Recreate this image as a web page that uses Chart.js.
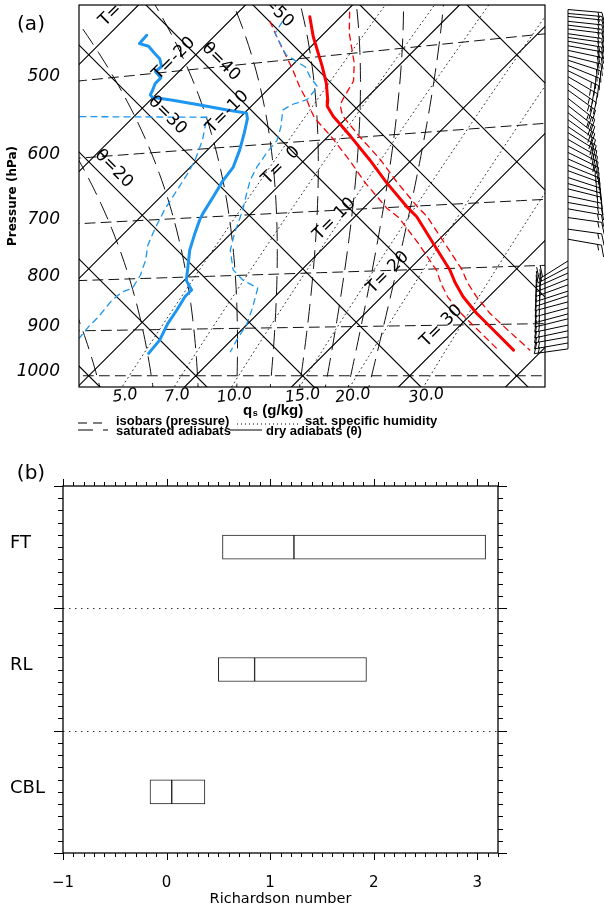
<!DOCTYPE html>
<html lang="en">
<head>
<meta charset="UTF-8" />
<title>Tephigram and Richardson number</title>
<script src="https://cdn.jsdelivr.net/npm/chart.js"></script>
<style>
  body { margin: 0; background: #fff; }
  #panelA { position: absolute; left: 0; top: 0; width: 604px; height: 445px; }
  #panelB { position: absolute; left: 0; top: 445px; width: 604px; height: 464px; }
</style>
</head>
<body>
<div id="panelA"><canvas id="tephi"></canvas></div>
<div id="panelB"><canvas id="rich"></canvas></div>
<script>
// ---------- (a) sounding on a tephigram ----------
const pressureTicks = [500, 600, 700, 800, 900, 1000];
const isotherms = [-40, -30, -20, -10, 0, 10, 20, 30, 40, 50];
const dryAdiabats = [-10, 0, 10, 20, 30, 40, 50, 60, 70, 80];
const satHumidity = [5, 7, 10, 15, 20, 30];                  // g/kg
const satAdiabats = [275, 285, 295, 305, 315, 325, 335, 345, 355, 365]; // theta_e (K)

// temperature (hPa, degC) and its spread
const tempP = [457, 478, 511, 531, 551, 558, 571, 598, 631, 663, 700, 716, 758, 803, 825, 849, 879, 910, 949];
const tempT = [-12.9, -10.7, -7.1, -5.1, -3.4, -2.9, -1.4, 2.1, 6.1, 9.7, 13.9, 15.8, 19.8, 23.9, 25.6, 27.6, 30.4, 33.5, 37.3];
const tempLow = [-16.2, -13.6, -9.6, -7.4, -5.1, -4.4, -3.0, 0.5, 4.4, 7.9, 12.1, 14.2, 18.5, 22.7, 24.3, 26.2, 29.0, 32.1, 35.9];
const tempHigh = [-9.6, -7.7, -4.4, -2.8, -2.1, -1.8, -0.6, 2.8, 7.0, 10.6, 14.8, 16.7, 20.8, 25.0, 26.7, 28.8, 31.6, 34.8, 38.8];

// dew point and its spread
const dewP = [457, 465, 469, 478, 484, 493, 498, 506, 512, 520, 525, 528, 534, 543, 552, 558, 565, 584, 605, 628, 646, 669, 694, 704, 725, 753, 782, 806, 824, 836, 862, 888, 922, 950];
const dewT = [-26.4, -26.3, -25.2, -23.9, -23.0, -22.1, -22.2, -21.1, -21.1, -20.7, -20.5, -20.1, -17.9, -14.9, -11.9, -9.8, -9.2, -8.1, -7.0, -6.0, -5.7, -5.1, -4.5, -4.2, -3.4, -2.3, -0.9, 0.2, 1.6, 1.6, 2.1, 2.5, 3.3, 3.5];
const dewHighP = [459, 470, 494, 510, 522, 534, 548, 552, 558, 579, 596, 612, 630, 648, 667, 692, 728, 756, 790, 809, 824, 859, 890, 924, 948];
const dewHighT = [-15.0, -14.6, -11.6, -8.6, -7.2, -5.6, -5.4, -6.3, -6.7, -5.3, -4.4, -4.2, -3.8, -3.2, -2.3, -1.1, 0.3, 1.5, 3.6, 5.5, 7.6, 8.9, 9.9, 10.5, 11.0];
const dewLowP = [457, 540, 544, 559, 588, 615, 635, 656, 686, 713, 741, 767, 793, 817, 824, 839, 872, 892, 915, 950];
const dewLowT = [-55, -45, -25.1, -13.1, -11.4, -10.2, -9.6, -9.1, -8.4, -7.6, -6.7, -5.5, -4.6, -4.1, -4.7, -4.9, -4.6, -4.6, -4.4, -8.0];

// wind barbs (hPa, direction deg, speed kt)
const windP = [422, 426, 429, 434, 438, 442, 447, 451, 455, 460, 465, 471, 476, 482, 488, 495, 503, 511, 521, 530, 539, 548, 557, 565, 574, 583, 592, 601, 610, 618, 628, 637, 645, 656, 666, 676, 690, 709, 726,
               764, 775, 786, 797, 808, 820, 829, 841, 853, 865, 875, 888, 900, 913, 926, 939];
const windDir = [95, 95, 96, 96, 97, 97, 98, 98, 100, 100, 102, 104, 108, 112, 116, 120, 124, 126, 128, 128, 128, 126, 124, 122, 120, 118, 116, 114, 112, 110, 108, 106, 104, 102, 100, 100, 98, 98, 100,
                 238, 242, 246, 248, 250, 252, 252, 255, 255, 255, 256, 258, 258, 260, 260, 262];
const windSpd = [15, 15, 15, 15, 15, 15, 15, 20, 20, 20, 20, 20, 20, 20, 25, 25, 25, 25, 25, 25, 20, 20, 20, 20, 20, 20, 15, 15, 15, 15, 15, 15, 15, 15, 15, 15, 15, 15, 15,
                 20, 20, 20, 20, 20, 20, 20, 15, 15, 15, 15, 15, 15, 15, 15, 15];

// ---------- (b) Richardson number by layer ----------
const riLayers = ['FT', 'RL', 'CBL'];
const riQ1 = [0.54, 0.50, -0.16];
const riMedian = [1.23, 0.85, 0.05];
const riQ3 = [3.08, 1.93, 0.37];
const riTicks = [-1, 0, 1, 2, 3];

// ---------- tephigram geometry: x = T + theta, y = theta - T (degC) ----------
const T0 = 273.15;
const KAPPA = 0.293;
const X_MIN = -1.82, X_MAX = 85.28, Y_MIN = -2.10, Y_MAX = 69.30;
const RED = 'rgb(250,0,0)';
const BLUE = 'rgb(28,150,240)';

function theta(T, p) { return (T + T0) * Math.pow(1000 / p, KAPPA) - T0; }
function toDiagram(T, p) { const th = theta(T, p); return { x: T + th, y: th - T }; }
function isobarAt(p, xv) {
  const f = Math.pow(1000 / p, KAPPA);
  const T = (xv + T0 * (1 - f)) / (1 + f);
  return (T + T0) * f - T0 - T;
}
function esat(T) { return 6.112 * Math.exp(17.67 * T / (T + 243.5)); }
function tempForQs(q, p) {
  const e = q * p / (622 + 0.378 * q);
  const L = Math.log(e / 6.112);
  return 243.5 * L / (17.67 - L);
}
function thetaE(T, p) {
  const e = esat(T), r = 622 * e / (p - e), TK = T + T0;
  return TK * Math.pow(1000 / p, 0.2854 * (1 - 0.00028 * r)) *
         Math.exp((3.376 / TK - 0.00254) * r * (1 + 0.00081 * r));
}
function tempOnThetaE(te, p) {
  let lo = -100, hi = 50;
  for (let k = 0; k < 50; k++) {
    const m = (lo + hi) / 2;
    if (thetaE(m, p) > te) hi = m; else lo = m;
  }
  return (lo + hi) / 2;
}
const profile = (ps, ts) => ps.map((p, i) => toDiagram(ts[i], p));
const sweepP = [];
for (let p = 1060; p >= 360; p -= 10) sweepP.push(p);

const line = (data, color, width, dash) => ({
  data, showLine: true, borderColor: color, borderWidth: width, borderDash: dash || [],
  pointRadius: 0, fill: false, tension: 0, borderJoinStyle: 'round', borderCapStyle: 'round'
});

const qsPoints = satHumidity.map(q => sweepP.map(p => toDiagram(tempForQs(q, p), p)));

const tephiSets = [
  line(profile(dewP, dewT), BLUE, 3),
  line(profile(tempP, tempT), RED, 3),
  line(profile(dewLowP, dewLowT), BLUE, 1.3, [6, 5]),
  line(profile(dewHighP, dewHighT), BLUE, 1.3, [6, 5]),
  line(profile(tempP, tempLow), RED, 1.3, [6, 5]),
  line(profile(tempP, tempHigh), RED, 1.3, [6, 5])
];
isotherms.forEach(T => tephiSets.push(line([{ x: T - 60, y: -60 - T }, { x: T + 120, y: 120 - T }], '#000', 1.2)));
dryAdiabats.forEach(th => tephiSets.push(line([{ x: th - 100, y: th + 100 }, { x: th + 80, y: th - 80 }], '#000', 1.2)));
pressureTicks.forEach(p => {
  const pts = [];
  for (let T = -80; T <= 60; T += 2) pts.push(toDiagram(T, p));
  tephiSets.push(line(pts, '#111', 1, [10, 6]));
});
qsPoints.forEach(pts => tephiSets.push(line(pts, '#333', 1, [1, 3.5])));
satAdiabats.forEach(te => tephiSets.push(line(sweepP.map(p => toDiagram(tempOnThetaE(te, p), p)), '#111', 1, [18, 9])));

function drawBarb(ctx, x0, y0, dir, spd) {
  const r = dir * Math.PI / 180;
  const ux = Math.sin(r), uy = -Math.cos(r);
  const L = 34;
  const tx = x0 + ux * L, ty = y0 + uy * L;
  let fx = -uy + 0.35, fy = ux;
  const n = Math.hypot(fx, fy); fx /= n; fy /= n;
  ctx.beginPath();
  ctx.moveTo(x0, y0); ctx.lineTo(tx, ty);
  const full = Math.floor(spd / 10), half = spd % 10 >= 5;
  let d = 0;
  for (let k = 0; k < full; k++, d += 4) {
    const bx = tx - ux * d, by = ty - uy * d;
    ctx.moveTo(bx, by); ctx.lineTo(bx + fx * 12, by + fy * 12);
  }
  if (half) {
    if (full === 0) d = 4;
    const bx = tx - ux * d, by = ty - uy * d;
    ctx.moveTo(bx, by); ctx.lineTo(bx + fx * 6, by + fy * 6);
  }
  ctx.stroke();
}

function sample(ctx, x0, x1, yy, dash, width) {
  ctx.save();
  ctx.setLineDash(dash); ctx.lineWidth = width; ctx.strokeStyle = '#000';
  ctx.beginPath(); ctx.moveTo(x0, yy); ctx.lineTo(x1, yy); ctx.stroke();
  ctx.restore();
}

const tephiDecor = {
  id: 'tephiDecor',
  afterDatasetsDraw(chart) {
    const { ctx, chartArea: a, scales: { x, y } } = chart;
    const toPx = (T, th) => [x.getPixelForValue(T + th), y.getPixelForValue(th - T)];
    const inside = (px, py) => px >= a.left && px <= a.right && py >= a.top && py <= a.bottom;

    // line labels, clipped to the diagram
    ctx.save();
    ctx.beginPath(); ctx.rect(a.left, a.top, a.width, a.height); ctx.clip();
    ctx.fillStyle = '#000';
    ctx.font = '17px "DejaVu Sans"';
    ctx.textAlign = 'center'; ctx.textBaseline = 'middle';
    isotherms.forEach(T => {
      const [px, py] = toPx(T, 37.6);
      if (!inside(px, py)) return;
      ctx.save(); ctx.translate(px - 9, py - 9); ctx.rotate(-Math.PI / 4);
      ctx.fillText('T=' + String(T).padStart(3, ' '), 0, 0);
      ctx.restore();
    });
    dryAdiabats.forEach(th => {
      const [px, py] = toPx(-17, th);
      if (!inside(px, py)) return;
      ctx.save(); ctx.translate(px + 9, py - 9); ctx.rotate(Math.PI / 4);
      ctx.fillText('\u03b8=' + th, 0, 0);
      ctx.restore();
    });
    ctx.restore();

    ctx.save();
    // frame
    ctx.strokeStyle = '#000'; ctx.lineWidth = 1.2;
    ctx.strokeRect(a.left, a.top, a.width, a.height);

    // q_s labels where the dotted lines leave the bottom edge
    ctx.fillStyle = '#000';
    ctx.font = 'italic 16px "DejaVu Sans"';
    ctx.textAlign = 'center'; ctx.textBaseline = 'middle';
    satHumidity.forEach((q, i) => {
      const pts = qsPoints[i];
      for (let k = 1; k < pts.length; k++) {
        const p0 = pts[k - 1], p1 = pts[k];
        if ((p0.y - Y_MIN) * (p1.y - Y_MIN) <= 0) {
          const f = (Y_MIN - p0.y) / (p1.y - p0.y);
          const px = x.getPixelForValue(p0.x + f * (p1.x - p0.x));
          ctx.save(); ctx.translate(px + 3, a.bottom + 9); ctx.rotate(-0.12);
          ctx.fillText(q.toFixed(1), 0, 0);
          ctx.restore();
          break;
        }
      }
    });
    // axis name q_s (g/kg)
    ctx.textAlign = 'left';
    ctx.font = 'bold 15px "Liberation Sans"';
    const qx = 243, qy = 411;
    ctx.fillText('q', qx, qy);
    const qw = ctx.measureText('q').width;
    ctx.font = 'bold 9px "Liberation Sans"';
    ctx.fillText('s', qx + qw + 0.5, qy + 3);
    ctx.font = 'bold 15px "Liberation Sans"';
    ctx.fillText(' (g/kg)', qx + qw + 6, qy);

    // legend
    ctx.font = 'bold 13px "Liberation Sans"';
    sample(ctx, 78, 108, 423, [9, 6], 1);
    ctx.fillText('isobars (pressure)', 116, 421);
    sample(ctx, 237, 300, 424, [1, 3], 1);
    ctx.fillText('sat. specific humidity', 305, 421);
    sample(ctx, 78, 108, 430, [15, 10], 1);
    ctx.fillText('saturated adiabats', 116, 431);
    sample(ctx, 230, 262, 430, [], 1);
    ctx.fillText('dry adiabats (\u03b8)', 266, 431);

    // panel tag
    ctx.font = '20px "DejaVu Sans"';
    ctx.textAlign = 'center';
    ctx.fillText('(a)', 31, 25);

    // wind barbs beside the diagram
    const staffX = a.right + 23;
    const ys = windP.map(p => y.getPixelForValue(isobarAt(p, X_MIN)));
    ctx.strokeStyle = '#000'; ctx.lineWidth = 1;
    ctx.beginPath(); ctx.moveTo(staffX, Math.min(...ys)); ctx.lineTo(staffX, Math.max(...ys)); ctx.stroke();
    windP.forEach((p, i) => drawBarb(ctx, staffX, ys[i], windDir[i], windSpd[i]));
    ctx.restore();
  }
};

Chart.defaults.color = '#000';
Chart.defaults.font.family = '"DejaVu Sans", sans-serif';

new Chart(document.getElementById('tephi'), {
  type: 'scatter',
  data: { datasets: tephiSets },
  options: {
    responsive: true,
    maintainAspectRatio: false,
    animation: false,
    layout: { padding: { left: 0, right: 59, top: 5, bottom: 58 } },
    plugins: { legend: { display: false }, tooltip: { enabled: false } },
    scales: {
      x: { type: 'linear', min: X_MIN, max: X_MAX, display: false },
      y: {
        type: 'linear', min: Y_MIN, max: Y_MAX,
        grid: { display: false }, border: { display: false },
        afterBuildTicks: s => {
          s.ticks = pressureTicks.map(p => ({ value: isobarAt(p, X_MIN), label: String(p) }))
                                 .sort((u, v) => u.value - v.value);
        },
        afterFit: s => { s.width = 79; s.paddingTop = 0; s.paddingBottom = 0; },
        ticks: {
          autoSkip: false, padding: 11, labelOffset: -4,
          font: { style: 'italic', size: 17 },
          callback: (v, i, ticks) => ticks[i].label
        },
        title: { display: true, text: 'Pressure (hPa)', font: { weight: 'bold', size: 12 }, padding: { top: 6, bottom: 0 } }
      }
    }
  },
  plugins: [tephiDecor]
});

// ---------- (b) ----------
const riDecor = {
  id: 'riDecor',
  beforeDatasetsDraw(chart) {
    const { ctx, chartArea: a, scales: { y } } = chart;
    ctx.save();
    ctx.strokeStyle = '#333'; ctx.lineWidth = 1.2; ctx.setLineDash([1.5, 4.5]);
    for (let i = 1; i < riLayers.length; i++) {
      const yy = Math.round(y.getPixelForValue(i)) + 0.5;
      ctx.beginPath(); ctx.moveTo(a.left, yy); ctx.lineTo(a.right, yy); ctx.stroke();
    }
    ctx.restore();
  },
  afterDraw(chart) {
    const { ctx, chartArea: a, scales: { x, y } } = chart;
    ctx.save();
    ctx.strokeStyle = '#000'; ctx.lineWidth = 1.3;
    ctx.strokeRect(a.left, a.top, a.width, a.height);
    ctx.lineWidth = 1;
    ctx.beginPath();
    for (let k = -10; k <= 32; k++) {
      const xx = Math.round(x.getPixelForValue(k / 10)) + 0.5;
      const len = k % 10 === 0 ? 7 : 4;
      ctx.moveTo(xx, a.bottom); ctx.lineTo(xx, a.bottom + len);
      ctx.moveTo(xx, a.top); ctx.lineTo(xx, a.top - len);
    }
    for (let k = 0; k <= 10 * riLayers.length; k++) {
      const yy = Math.round(y.getPixelForValue(k / 10)) + 0.5;
      const len = k % 10 === 0 ? 9 : 5;
      ctx.moveTo(a.left - len, yy); ctx.lineTo(a.left, yy);
      ctx.moveTo(a.right, yy); ctx.lineTo(a.right + len, yy);
    }
    ctx.stroke();
    ctx.fillStyle = '#000';
    ctx.font = '20px "DejaVu Sans"';
    ctx.textAlign = 'center'; ctx.textBaseline = 'middle';
    ctx.fillText('(b)', 31, 29);
    ctx.restore();
  }
};

new Chart(document.getElementById('rich'), {
  type: 'bar',
  data: {
    datasets: [{
      data: riLayers.flatMap((n, i) => [
        { y: i + 0.5, x: [riQ1[i], riMedian[i]] },
        { y: i + 0.5, x: [riMedian[i], riQ3[i]] }
      ]),
      backgroundColor: '#fff',
      borderColor: '#222',
      borderWidth: 1,
      borderSkipped: false,
      barThickness: 24
    }]
  },
  options: {
    indexAxis: 'y',
    responsive: true,
    maintainAspectRatio: false,
    animation: false,
    layout: { padding: { left: 10, right: 106, top: 41, bottom: 0 } },
    plugins: { legend: { display: false }, tooltip: { enabled: false } },
    scales: {
      x: {
        type: 'linear', min: -1, max: 3.2,
        grid: { display: false }, border: { display: false },
        afterBuildTicks: s => { s.ticks = riTicks.map(v => ({ value: v })); },
        afterFit: s => { s.height = 56; },
        ticks: {
          padding: 13, font: { size: 15 },
          callback: v => v < 0 ? '\u2212' + Math.abs(v) : String(v)
        },
        title: { display: true, text: 'Richardson number', font: { size: 14.5 }, padding: { top: 0, bottom: 1 } }
      },
      y: {
        type: 'linear', min: 0, max: 3, reverse: true, offset: false,
        grid: { display: false }, border: { display: false },
        afterBuildTicks: s => { s.ticks = riLayers.map((n, i) => ({ value: i + 0.5 })); },
        afterFit: s => { s.width = 53; },
        ticks: {
          crossAlign: 'far', labelOffset: -4, font: { size: 18 },
          callback: (v, i) => riLayers[i]
        }
      }
    }
  },
  plugins: [riDecor]
});
</script>
</body>
</html>
